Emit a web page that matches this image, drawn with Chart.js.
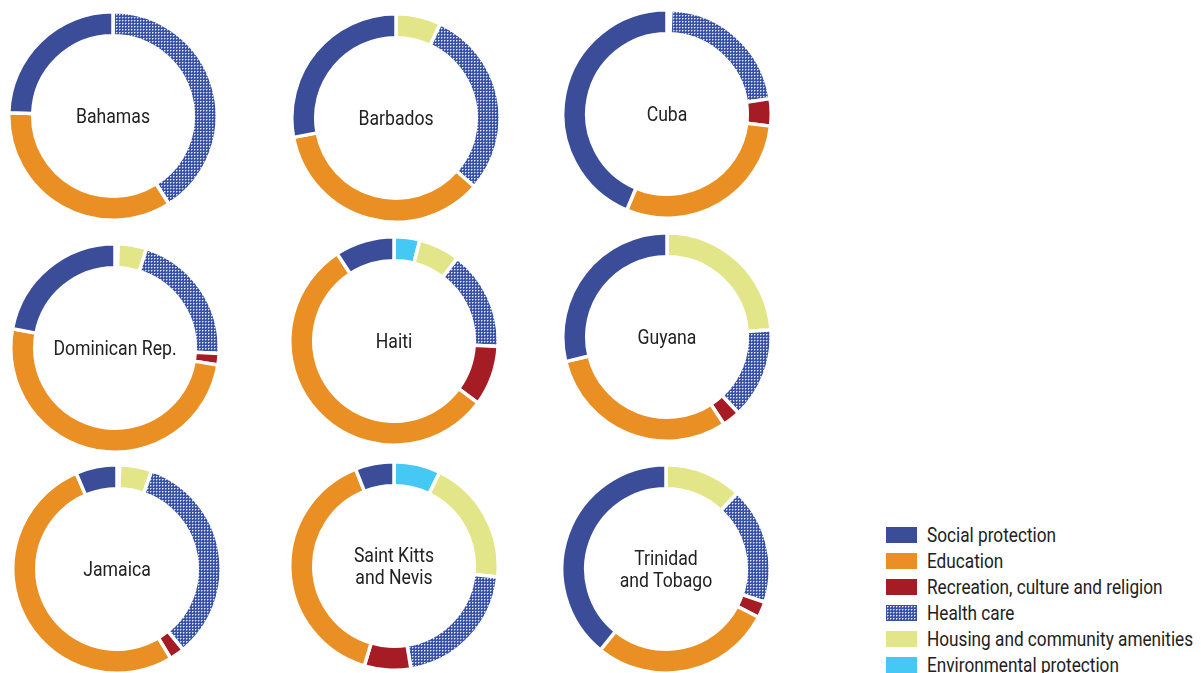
<!DOCTYPE html>
<html>
<head>
<meta charset="utf-8">
<script src="https://cdn.jsdelivr.net/npm/chart.js@4"></script>
<style>
  body { margin: 0; background: #fff; width: 1201px; height: 673px; overflow: hidden; position: relative;
         font-family: Roboto, "DejaVu Sans", sans-serif; font-weight: 400; color: #222; }
  .donut { position: absolute; width: 212px; height: 212px; }
  .label { position: absolute; left: 0; top: 0; width: 212px; height: 212px; display: flex;
           align-items: center; justify-content: center; text-align: center; font-size: 20.5px; line-height: 22px;
           pointer-events: none; transform: scaleX(0.86); }
  #legend { position: absolute; left: 886px; top: 522px; }
  .item { display: flex; align-items: center; height: 26px; font-size: 20px; white-space: nowrap; }
  .item canvas { width: 31px; height: 16px; margin-right: 10px; }
  .item span { display: inline-block; transform: scaleX(0.86); transform-origin: left center; }
</style>
</head>
<body>
<div id="legend"></div>
<script>
// Country order (reading left to right, top to bottom)
const countries = ['Bahamas', 'Barbados', 'Cuba', 'Dominican Rep.', 'Haiti', 'Guyana',
  'Jamaica', 'Saint Kitts\nand Nevis', 'Trinidad\nand Tobago'];

// Share of social expenditure by function (%), one value per country
const socialProtection = [24.5, 28, 43.6, 22.1, 9.2, 28.8, 6.4, 6, 39.2];
const education        = [34.5, 35.6, 29.4, 50.5, 55.8, 30.4, 52.2, 39.4, 28.2];
const recreation       = [0, 0, 4.2, 1.8, 9.3, 2.8, 2.3, 7.2, 2.5];
const healthCare       = [41, 29.5, 22, 21, 15.5, 14.1, 33.7, 20.7, 18.2];
const housing          = [0, 7, 0.6, 4.4, 6.4, 23.9, 5, 19.5, 12];
const environment      = [0, 0, 0, 0.5, 4, 0, 0.4, 7.2, 0];

const legendLabels = ['Social protection', 'Education', 'Recreation, culture and religion',
  'Health care', 'Housing and community amenities', 'Environmental protection'];

// chart centres on the page
const centres = [[113, 116], [396, 118], [667, 114], [115, 348], [394, 341], [667, 337],
  [117, 569], [394, 566], [666, 569]];

const colors = {
  social: '#3b4d98',
  education: '#e98f23',
  recreation: '#a51c24',
  housing: '#e3e688',
  environment: '#45c8f4'
};

// crosshatch used for health care
function hatch() {
  const c = document.createElement('canvas');
  c.width = 3; c.height = 3;
  const g = c.getContext('2d');
  g.fillStyle = '#3a52a6';
  g.fillRect(0, 0, 3, 3);
  g.fillStyle = '#e8ecf7';
  g.fillRect(1, 1, 1, 1);
  g.fillStyle = '#8d9cd0';
  g.fillRect(2, 1, 1, 1);
  g.fillRect(1, 2, 1, 1);
  return g.createPattern(c, 'repeat');
}
const healthFill = hatch();

countries.forEach((name, i) => {
  const wrap = document.createElement('div');
  wrap.className = 'donut';
  wrap.style.left = (centres[i][0] - 106) + 'px';
  wrap.style.top = (centres[i][1] - 106) + 'px';
  const cv = document.createElement('canvas');
  cv.width = 212; cv.height = 212;
  wrap.appendChild(cv);
  const lab = document.createElement('div');
  lab.className = 'label';
  lab.innerHTML = name.replace('\n', '<br>');
  wrap.appendChild(lab);
  document.body.appendChild(wrap);

  // clockwise from 12 o'clock
  new Chart(cv, {
    type: 'doughnut',
    data: {
      labels: ['Environmental protection', 'Housing and community amenities', 'Health care',
        'Recreation, culture and religion', 'Education', 'Social protection'],
      datasets: [{
        data: [environment[i], housing[i], healthCare[i], recreation[i], education[i], socialProtection[i]],
        backgroundColor: [colors.environment, colors.housing, healthFill, colors.recreation,
          colors.education, colors.social],
        borderColor: '#fff',
        borderWidth: 3.5
      }]
    },
    options: {
      responsive: false,
      animation: false,
      cutout: '77%',
      layout: { padding: 0 },
      plugins: { legend: { display: false }, tooltip: { enabled: false } }
    }
  });
});

// legend
const legend = document.getElementById('legend');
const swatches = [colors.social, colors.education, colors.recreation, 'hatch', colors.housing, colors.environment];
legendLabels.forEach((txt, i) => {
  const row = document.createElement('div');
  row.className = 'item';
  const sw = document.createElement('canvas');
  sw.width = 31; sw.height = 16;
  const g = sw.getContext('2d');
  g.fillStyle = swatches[i] === 'hatch' ? healthFill : swatches[i];
  g.fillRect(0, 0, 31, 16);
  row.appendChild(sw);
  const span = document.createElement('span');
  span.textContent = txt;
  row.appendChild(span);
  legend.appendChild(row);
});
</script>
</body>
</html>
